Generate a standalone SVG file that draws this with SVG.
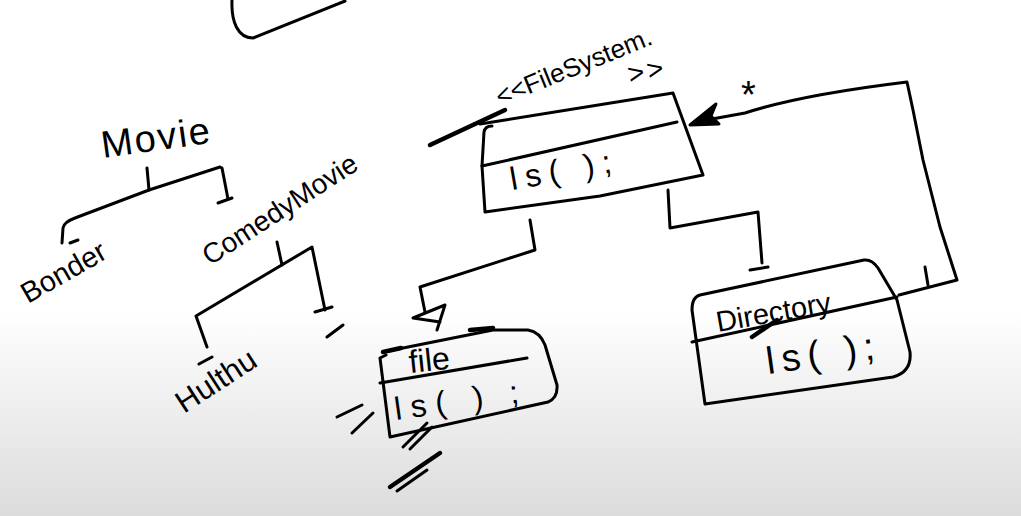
<svg xmlns="http://www.w3.org/2000/svg" width="1021" height="516" viewBox="0 0 1021 516">
<defs>
<linearGradient id="bg" x1="0" y1="0" x2="0" y2="1">
<stop offset="0" stop-color="#ffffff"/>
<stop offset="0.6" stop-color="#ffffff"/>
<stop offset="1" stop-color="#dcdcdc"/>
</linearGradient>
<style>
.s{fill:none;stroke:#000;stroke-width:3;stroke-linecap:round;stroke-linejoin:round}
.b{fill:none;stroke:#000;stroke-width:4.5;stroke-linecap:round}
.t{font-family:"Liberation Sans",Arial,sans-serif;fill:#000}
</style>
</defs>
<rect width="1021" height="516" fill="url(#bg)"/>
<path class="s" d="M232,0 C231,22 238,38 253,38 L345,1"/>

<g id="movie"><text class="t" x="103" y="158" font-size="38" letter-spacing="2" transform="rotate(-8 103 158)">Movie</text></g>
<g id="bonder"><text class="t" x="28" y="304" font-size="29" transform="rotate(-30 28 304)">Bonder</text></g>
<g id="comedymovie"><text class="t" x="210" y="266" font-size="28" transform="rotate(-33 210 266)">ComedyMovie</text></g>
<g id="hulthu"><text class="t" x="184" y="414" font-size="31" transform="rotate(-33 184 414)">Hulthu</text></g>

<g id="filesystem">
<path class="s" d="M480,124 L673,93 L703,175 L600,196 L485,212 L482,166 L484,132 Q485,126 492,126"/>
<path class="s" d="M482,166 L677,122"/>
<path class="b" d="M430,145 L505,110"/>
<text class="t" x="500" y="106" font-size="26" transform="rotate(-22 500 106)">&lt;&lt;FileSystem.</text>
<text class="t" x="630" y="84" font-size="28" letter-spacing="3" transform="rotate(-12 630 84)">&gt;&gt;</text>
<text class="t" x="512" y="190" font-size="32" letter-spacing="8" transform="rotate(-10 512 190)">ls( );</text>
</g>

<g id="file">
<path class="s" d="M383,352 L493,330 L528,330 Q540,332 545,345 L557,385 Q558,398 548,402 L390,437 L380,358 L386,355"/>
<path class="s" d="M380,383 L527,358"/>
<path class="b" d="M383,352 L401,348 M470,330 L493,328"/>
<text class="t" x="410" y="373" font-size="32" transform="rotate(-6 410 373)">file</text>
<text class="t" x="396" y="420" font-size="32" letter-spacing="9" transform="rotate(-8 396 420)">ls( ) ;</text>
<path class="s" d="M337,417 L362,405 M352,433 L373,413 M403,447 L427,423 M410,449 L432,427"/>
<path class="b" d="M390,487 L440,453"/>
<path class="s" d="M397,491 L427,470"/>
</g>

<g id="directory">
<path class="s" d="M700,295 L864,260 Q872,259 878,268 L897,300 L910,352 Q912,372 893,377 L705,404 L692,310 Q692,297 700,295"/>
<path class="s" d="M692,342 L897,297"/>
<path class="b" d="M752,337 L777,320"/>
<text class="t" x="718" y="332" font-size="29" transform="rotate(-10 718 332)">Directory</text>
<text class="t" x="768" y="374" font-size="38" letter-spacing="7" transform="rotate(-8 768 374)">ls( );</text>
</g>

<g id="connectors">
<path class="s" d="M147,168 L149,190"/>
<path class="s" d="M62,243 L63,228 Q64,222 75,218 L149,190 L220,167 L222,168 L228,199"/>
<path class="s" d="M218,203 L232,198 M70,243 L78,240"/>
<path class="s" d="M277,242 L282,265"/>
<path class="s" d="M207,347 L196,316 L312,247 L325,310"/>
<path class="s" d="M315,312 L332,307 M199,364 L212,357 M327,337 L343,325"/>
<path class="s" d="M530,220 L535,250 L420,287 L425,312"/>
<path class="s" d="M445,305 L413,318 L440,322 M445,305 L437,330"/>
<path class="s" d="M668,190 L670,228 L758,212 L762,263"/>
<path class="s" d="M750,270 L768,267"/>
<polygon points="690,125 716,104 711,116 719,124" fill="#000" stroke="#000" stroke-width="3" stroke-linejoin="round"/>
<path class="s" d="M712,119 L745,113 Q800,95 907,82 L913,110 L923,160 L940,227 L957,280 L899,295"/>
<path class="s" d="M925,267 L928,285"/>
<text class="t" x="741" y="108" font-size="38">*</text>
</g>
</svg>
